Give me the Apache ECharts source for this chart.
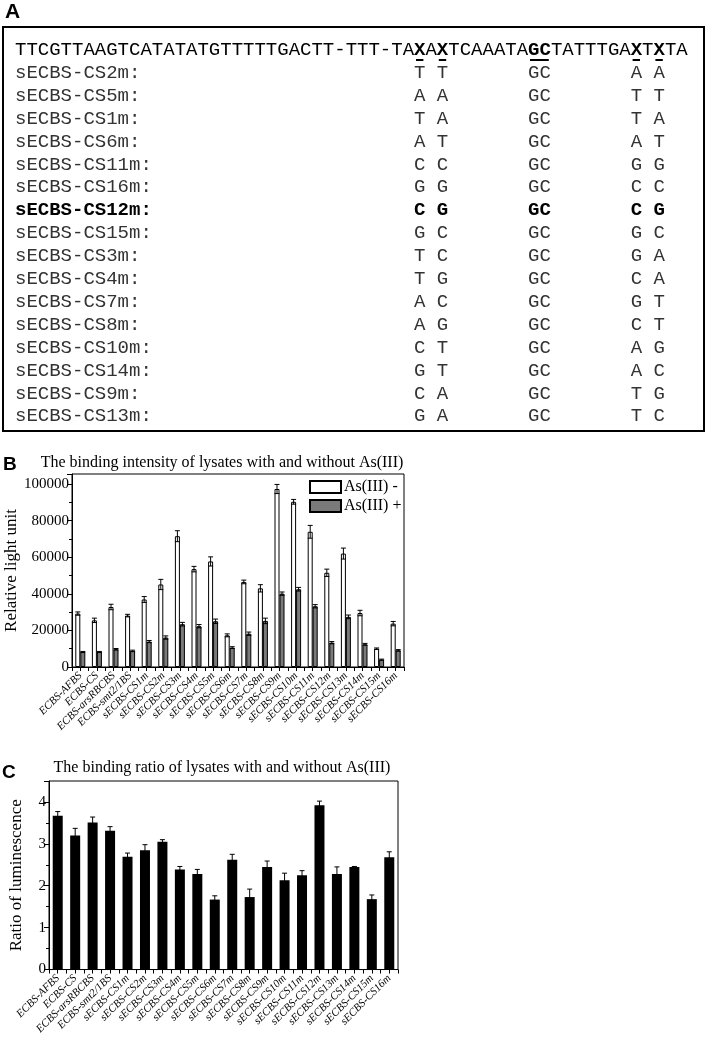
<!DOCTYPE html>
<html>
<head>
<meta charset="utf-8">
<script src="https://cdn.jsdelivr.net/npm/echarts@6/dist/echarts.min.js"></script>
<style>
html, body { margin: 0; padding: 0; background: #fff; }
#chart { width: 709px; height: 1037px; }
</style>
</head>
<body>
<div id="chart"></div>
<script>
// ---- panel A: consensus sequence and the mutated sites ----
// [text, bold]
const consensusParts = [
  ['TTCGTTAAGTCATATATGTTTTTGACTT-TTT-TA', 0], ['X', 1], ['A', 0], ['X', 1],
  ['TCAAATA', 0], ['GC', 1], ['TATTTGA', 0], ['X', 1], ['T', 0], ['X', 1], ['TA', 0]
]
const mutantNames = [
  'sECBS-CS2m:', 'sECBS-CS5m:', 'sECBS-CS1m:', 'sECBS-CS6m:', 'sECBS-CS11m:', 'sECBS-CS16m:',
  'sECBS-CS12m:', 'sECBS-CS15m:', 'sECBS-CS3m:', 'sECBS-CS4m:', 'sECBS-CS7m:', 'sECBS-CS8m:',
  'sECBS-CS10m:', 'sECBS-CS14m:', 'sECBS-CS9m:', 'sECBS-CS13m:'
]
const site1 = ['T', 'A', 'T', 'A', 'C', 'G', 'C', 'G', 'T', 'T', 'A', 'A', 'C', 'G', 'C', 'G']
const site2 = ['T', 'A', 'A', 'T', 'C', 'G', 'G', 'C', 'C', 'G', 'C', 'G', 'T', 'T', 'A', 'A']
const site3 = ['A', 'T', 'T', 'A', 'G', 'C', 'C', 'G', 'G', 'C', 'G', 'C', 'A', 'A', 'T', 'T']
const site4 = ['A', 'T', 'A', 'T', 'G', 'C', 'G', 'C', 'A', 'A', 'T', 'T', 'G', 'C', 'G', 'C']
const boldMutant = 'sECBS-CS12m:'
const underlineCols = [[35, 1], [37, 1], [45, 2], [54, 1], [56, 1]]

// ---- panels B and C ----
const categories = [
  'ECBS-AFBS', 'ECBS-CS', 'ECBS-arsRBCBS', 'ECBS-smt2/1BS', 'sECBS-CS1m', 'sECBS-CS2m',
  'sECBS-CS3m', 'sECBS-CS4m', 'sECBS-CS5m', 'sECBS-CS6m', 'sECBS-CS7m', 'sECBS-CS8m',
  'sECBS-CS9m', 'sECBS-CS10m', 'sECBS-CS11m', 'sECBS-CS12m', 'sECBS-CS13m', 'sECBS-CS14m',
  'sECBS-CS15m', 'sECBS-CS16m'
]
const withoutAs = [29200, 25500, 32800, 28100, 36900, 45100, 71500, 53500, 57700, 17300,
  46500, 43000, 97300, 90300, 73900, 51500, 62000, 29500, 10000, 23700]
const withoutAsErr = [900, 1200, 1500, 700, 1600, 2800, 3000, 1500, 2500, 800,
  1000, 2000, 2500, 1300, 3500, 2000, 3000, 1500, 400, 1200]
const withAs = [8200, 8200, 9700, 8800, 13900, 16100, 23400, 22300, 25000, 10600,
  18200, 25200, 40100, 42500, 33200, 13300, 27400, 12400, 4000, 9100]
const withAsErr = [300, 300, 400, 400, 600, 900, 1000, 900, 1200, 500,
  900, 1500, 900, 1000, 900, 600, 1000, 500, 300, 400]
const ratio = [3.67, 3.20, 3.51, 3.31, 2.69, 2.85, 3.05, 2.39, 2.28, 1.67,
  2.62, 1.73, 2.45, 2.13, 2.25, 3.92, 2.28, 2.45, 1.68, 2.68]
const ratioErr = [0.10, 0.17, 0.13, 0.10, 0.09, 0.13, 0.05, 0.07, 0.11, 0.09,
  0.13, 0.19, 0.14, 0.17, 0.11, 0.10, 0.17, 0.01, 0.10, 0.13]

const serif = '"Liberation Serif", "Times New Roman", serif'
const sans = '"Liberation Sans", Arial, sans-serif'
const mono = '"Liberation Mono", "Courier New", monospace'
const seqFont = 19
const charW = seqFont * 0.6
const seqX = 15
const rowY0 = 50
const rowStep = 22.9

const chart = echarts.init(document.getElementById('chart'))

const buildPanelA = () => {
  const items = [
    { type: 'rect', shape: { x: 3, y: 27, width: 701, height: 404 },
      style: { fill: 'none', stroke: '#000', lineWidth: 2 } }
  ]
  // consensus line with bold sites
  const rich = { n: { fontFamily: mono, fontSize: seqFont, color: '#333' },
    b: { fontFamily: mono, fontSize: seqFont, fontWeight: 'bold', color: '#000' } }
  const text = consensusParts.map(p => '{' + (p[1] ? 'b' : 'n') + '|' + p[0] + '}').join('')
  items.push({ type: 'text', x: seqX, y: rowY0,
    style: { text, rich, verticalAlign: 'middle' } })
  underlineCols.forEach(u => {
    items.push({ type: 'rect',
      shape: { x: seqX + u[0] * charW + 2, y: rowY0 + 9, width: u[1] * charW - 4, height: 2 },
      style: { fill: '#000' } })
  })
  mutantNames.forEach((name, i) => {
    const bold = name === boldMutant
    const line = name.padEnd(35) + site1[i] + ' ' + site2[i] + '       GC       ' + site3[i] + ' ' + site4[i]
    items.push({ type: 'text', x: seqX, y: rowY0 + (i + 1) * rowStep,
      style: { text: line, fontFamily: mono, fontSize: seqFont, fill: bold ? '#000' : '#333',
        fontWeight: bold ? 'bold' : 'normal', verticalAlign: 'middle' } })
  })
  items.push({ type: 'text', x: 5, y: 12,
    style: { text: 'A', fontFamily: sans, fontWeight: 'bold', fontSize: 21, fill: '#000', verticalAlign: 'middle' } })
  return items
}

const errorBars = (xIndex, yIndex, vals, errs, offset, capW) => ({
  type: 'custom',
  xAxisIndex: xIndex,
  yAxisIndex: yIndex,
  z: 10,
  silent: true,
  encode: { x: 0, y: [1, 2] },
  data: vals.map((v, i) => [i, v - errs[i], v + errs[i]]),
  renderItem: (params, api) => {
    const lo = api.coord([api.value(0), api.value(1)])
    const hi = api.coord([api.value(0), api.value(2)])
    const x = lo[0] + offset
    const st = { stroke: '#000', lineWidth: 1 }
    return {
      type: 'group',
      children: [
        { type: 'line', shape: { x1: x, y1: lo[1], x2: x, y2: hi[1] }, style: st },
        { type: 'line', shape: { x1: x - capW / 2, y1: hi[1], x2: x + capW / 2, y2: hi[1] }, style: st },
        { type: 'line', shape: { x1: x - capW / 2, y1: lo[1], x2: x + capW / 2, y2: lo[1] }, style: st }
      ]
    }
  }
})

const catAxis = (gridIndex) => ({
  gridIndex,
  type: 'category',
  data: categories,
  axisLine: { lineStyle: { color: '#000', width: 1 } },
  axisTick: { show: false },
  axisLabel: { rotate: 45, interval: 0, fontSize: 11, fontStyle: 'italic', fontFamily: serif, color: '#000', margin: 7 }
})
// half-category ticks along the bottom edge
const tickAxis = (gridIndex) => ({
  gridIndex,
  type: 'value',
  position: 'bottom',
  min: 0,
  max: categories.length,
  interval: 0.5,
  axisLine: { show: false },
  axisTick: { show: true, length: 4, lineStyle: { color: '#000' } },
  axisLabel: { show: false },
  splitLine: { show: false }
})
const valAxis = (gridIndex, max, interval, name, nameGap) => ({
  gridIndex,
  type: 'value',
  min: 0,
  max,
  interval,
  name,
  nameLocation: 'middle',
  nameGap,
  nameTextStyle: { fontFamily: serif, fontSize: 17, color: '#000' },
  axisLine: { show: true, lineStyle: { color: '#000' } },
  axisTick: { show: true, length: 5, lineStyle: { color: '#000' } },
  minorTick: { show: true, splitNumber: 2, length: 3, lineStyle: { color: '#000' } },
  splitLine: { show: false },
  axisLabel: { fontFamily: serif, fontSize: 15, color: '#000', margin: 3, showMaxLabel: false,
    formatter: v => String(v) }
})

const option = {
  animation: false,
  backgroundColor: '#fff',
  grid: [
    { left: 72, right: 305, top: 474, bottom: 370, show: true, borderColor: '#000', borderWidth: 1, containLabel: false },
    { left: 41, right: 311, top: 781, bottom: 62, show: true, borderColor: '#000', borderWidth: 1, containLabel: false }
  ],
  legend: {
    data: ['As(III) -', 'As(III) +'],
    orient: 'vertical',
    left: 309,
    top: 479,
    padding: 0,
    icon: 'rect',
    itemWidth: 31,
    itemHeight: 12,
    itemGap: 3,
    selectedMode: false,
    textStyle: { fontFamily: serif, fontSize: 16, color: '#000', padding: [0, 0, 0, -2] }
  },
  xAxis: [catAxis(0), tickAxis(0), catAxis(1), tickAxis(1)],
  yAxis: [
    valAxis(0, 105500, 20000, 'Relative light unit', 44),
    valAxis(1, 4.5, 1, 'Ratio of luminescence', 24)
  ],
  series: [
    { name: 'As(III) -', type: 'bar', xAxisIndex: 0, yAxisIndex: 0, data: withoutAs,
      barWidth: 5, barGap: '0%', itemStyle: { color: '#fff', borderColor: '#000', borderWidth: 1 } },
    { name: 'As(III) +', type: 'bar', xAxisIndex: 0, yAxisIndex: 0, data: withAs,
      barWidth: 5, barGap: '0%', itemStyle: { color: '#7a7a7a', borderColor: '#000', borderWidth: 1 } },
    errorBars(0, 0, withoutAs, withoutAsErr, -2.5, 5),
    errorBars(0, 0, withAs, withAsErr, 2.5, 5),
    { name: 'ratio', type: 'bar', xAxisIndex: 2, yAxisIndex: 1, data: ratio,
      barWidth: 10, itemStyle: { color: '#000' } },
    errorBars(2, 1, ratio, ratioErr, 0, 5)
  ],
  graphic: buildPanelA().concat([
    { type: 'text', x: 3, y: 465,
      style: { text: 'B', fontFamily: sans, fontWeight: 'bold', fontSize: 19, fill: '#000', verticalAlign: 'middle' } },
    { type: 'text', x: 222, y: 463,
      style: { text: 'The binding intensity of lysates with and without As(III)', fontFamily: serif, fontSize: 16,
        fill: '#000', align: 'center', verticalAlign: 'middle' } },
    { type: 'text', x: 2, y: 773,
      style: { text: 'C', fontFamily: sans, fontWeight: 'bold', fontSize: 19, fill: '#000', verticalAlign: 'middle' } },
    { type: 'text', x: 222, y: 768,
      style: { text: 'The binding ratio of lysates with and without As(III)', fontFamily: serif, fontSize: 16,
        fill: '#000', align: 'center', verticalAlign: 'middle' } }
  ])
}

chart.setOption(option)
window.addEventListener('resize', () => chart.resize())
</script>
</body>
</html>
